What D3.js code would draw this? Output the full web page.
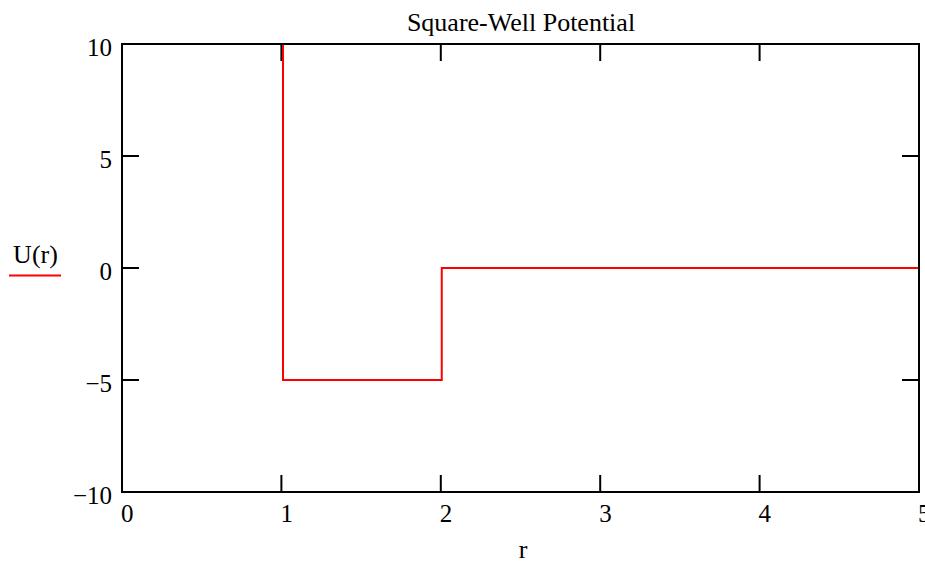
<!DOCTYPE html>
<html>
<head>
<meta charset="utf-8">
<script src="https://cdn.jsdelivr.net/npm/d3@7"></script>
<style>
  body { margin: 0; background: #fff; }
</style>
</head>
<body>
<div id="chart"></div>
<script>
// Square-well potential, sampled; the jumps fall just past r = 1 and r = 2
var rValues = [1.01, 1.01, 2.006, 2.006, 5];
var uValues = [10, -5, -5, 0, 0];
var xTicks = [0, 1, 2, 3, 4, 5];
var yTicks = [-10, -5, 0, 5, 10];
var title = "Square-Well Potential";
var xLabel = "r";
var seriesName = "U(r)";

var width = 925, height = 562;
var margin = {left: 122, right: 6, top: 44, bottom: 70};
var fontFamily = "'Liberation Serif', 'Times New Roman', serif";

var svg = d3.select("#chart").append("svg")
    .attr("width", width)
    .attr("height", height)
    .attr("font-family", fontFamily);

var x = d3.scaleLinear().domain([0, 5]).range([margin.left, width - margin.right]);
var y = d3.scaleLinear().domain([-10, 10]).range([height - margin.bottom, margin.top]);

var tickLen = 17;

// Inward ticks on all four sides
svg.append("g").selectAll("line")
  .data(xTicks).enter().append("line")
    .attr("x1", function(d) { return x(d); })
    .attr("x2", function(d) { return x(d); })
    .attr("y1", y(-10))
    .attr("y2", y(-10) - tickLen)
    .attr("stroke", "#000").attr("stroke-width", 2);

svg.append("g").selectAll("line")
  .data(xTicks).enter().append("line")
    .attr("x1", function(d) { return x(d); })
    .attr("x2", function(d) { return x(d); })
    .attr("y1", y(10))
    .attr("y2", y(10) + tickLen)
    .attr("stroke", "#000").attr("stroke-width", 2);

svg.append("g").selectAll("line")
  .data(yTicks).enter().append("line")
    .attr("x1", x(0))
    .attr("x2", x(0) + tickLen)
    .attr("y1", function(d) { return y(d); })
    .attr("y2", function(d) { return y(d); })
    .attr("stroke", "#000").attr("stroke-width", 2);

svg.append("g").selectAll("line")
  .data(yTicks).enter().append("line")
    .attr("x1", x(5))
    .attr("x2", x(5) - tickLen)
    .attr("y1", function(d) { return y(d); })
    .attr("y2", function(d) { return y(d); })
    .attr("stroke", "#000").attr("stroke-width", 2);

// the curve
var pts = rValues.map(function(r, i) { return [r, uValues[i]]; });
var line = d3.line()
    .x(function(d) { return x(d[0]); })
    .y(function(d) { return y(d[1]); });

svg.append("path")
    .datum(pts)
    .attr("d", line)
    .attr("fill", "none")
    .attr("stroke", "#ff0000")
    .attr("stroke-width", 2);

// frame
svg.append("rect")
    .attr("x", x(0)).attr("y", y(10))
    .attr("width", x(5) - x(0))
    .attr("height", y(-10) - y(10))
    .attr("fill", "none")
    .attr("stroke", "#000")
    .attr("stroke-width", 2);

// tick labels
svg.append("g").selectAll("text")
  .data(yTicks).enter().append("text")
    .attr("x", x(0) - 10)
    .attr("y", function(d) { return y(d) + 12; })
    .attr("text-anchor", "end")
    .attr("font-size", 25)
    .text(function(d) { return d < 0 ? "\u2212" + Math.abs(d) : d; });

svg.append("g").selectAll("text")
  .data(xTicks).enter().append("text")
    .attr("x", function(d) { return x(d) - 1; })
    .attr("y", y(-10) + 30)
    .attr("text-anchor", "start")
    .attr("font-size", 25)
    .text(function(d) { return d; });

svg.append("text")
    .attr("x", 521).attr("y", 30.5)
    .attr("text-anchor", "middle")
    .attr("font-size", 26)
    .text(title);

svg.append("text")
    .attr("x", 523).attr("y", 558)
    .attr("text-anchor", "middle")
    .attr("font-size", 26)
    .text(xLabel);

// legend
svg.append("text")
    .attr("x", 35.5).attr("y", 262.5)
    .attr("text-anchor", "middle")
    .attr("font-size", 26)
    .text(seriesName);

svg.append("line")
    .attr("x1", 9).attr("x2", 61)
    .attr("y1", 275.5).attr("y2", 275.5)
    .attr("stroke", "#ff0000").attr("stroke-width", 2);
</script>
</body>
</html>
